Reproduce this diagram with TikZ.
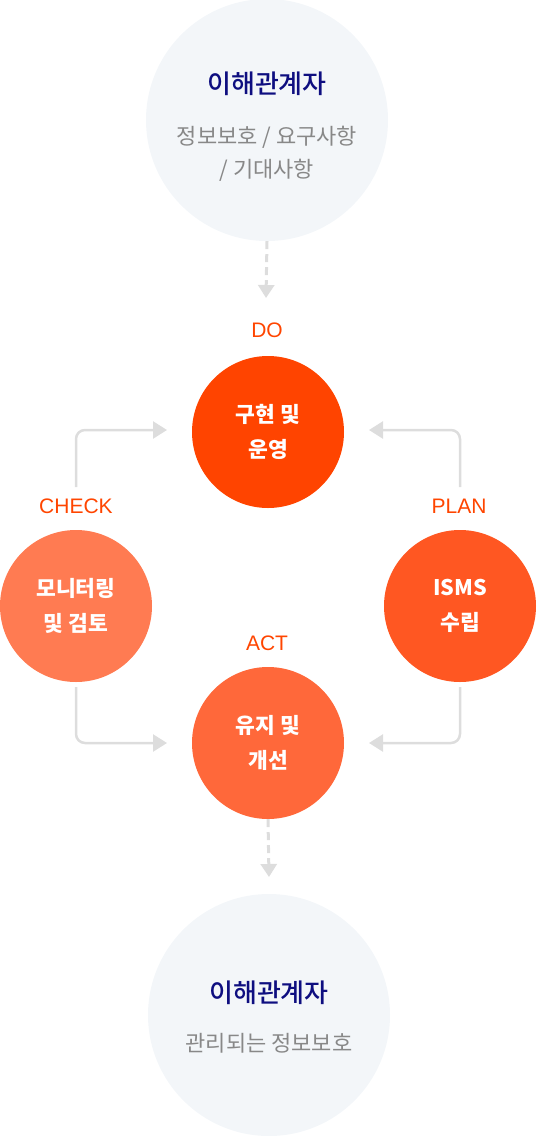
\documentclass[tikz,border=0pt]{standalone}
\usepackage{fontspec}
\setmainfont{Noto Sans CJK KR}
\newfontfamily\krmed{Noto Sans CJK KR}[UprightFont={* Medium}]
\newfontfamily\latinlbl{Liberation Sans}
\usetikzlibrary{arrows.meta}
\definecolor{cdo}{RGB}{255,68,0}
\definecolor{cplan}{RGB}{255,87,34}
\definecolor{cact}{RGB}{255,104,58}
\definecolor{ccheck}{RGB}{255,123,82}
\definecolor{cbg}{RGB}{243,246,249}
\definecolor{cnavy}{RGB}{14,14,128}
\definecolor{csub}{RGB}{136,136,136}
\definecolor{cline}{RGB}{221,221,221}
\definecolor{clbl}{RGB}{255,69,0}
\tikzset{
  x=1pt,y=-1pt,
  bigcirc/.style={circle,fill=cbg,minimum size=242pt,inner sep=0pt},
  stepcirc/.style={circle,minimum size=152pt,inner sep=0pt,text=white,align=center,
    font=\fontsize{21.5}{35}\selectfont\bfseries},
  titletext/.style={text=cnavy,font=\fontsize{26}{30}\selectfont\krmed,inner sep=0pt},
  subtext/.style={text=csub,font=\fontsize{22}{33}\selectfont,align=center,inner sep=0pt},
  phase/.style={text=clbl,font=\fontsize{21}{24}\selectfont\latinlbl,inner sep=0pt},
  conn/.style={draw=cline,line width=2.5pt,rounded corners=9pt,-{Triangle[length=14pt,width=17pt]}},
  dconn/.style={draw=cline,line width=3pt,dash pattern=on 8pt off 5pt,-{Triangle[length=13pt,width=16pt]}}
}
\begin{document}
\begin{tikzpicture}
\useasboundingbox (0,0) rectangle (536,1136);
% stakeholder circles
\node[bigcirc] (top) at (267,120) {};
\node[titletext] (toptitle) at (267,84) {이해관계자};
\node[subtext] (topsub) at (267,153.5) {정보보호 / 요구사항\\/ 기대사항};
\node[bigcirc] (bot) at (269,1015) {};
\node[titletext] (bottitle) at (269,993) {이해관계자};
\node[subtext] (botsub) at (269,1043) {관리되는 정보보호};
% phase labels
\node[phase] (lbldo) at (267,330) {DO};
\node[phase] (lblcheck) at (76,506) {CHECK};
\node[phase] (lblplan) at (459,506) {PLAN};
\node[phase] (lblact) at (267,643) {ACT};
% step circles
\node[stepcirc,fill=cdo] (do) at (268,432) {구현 및\\운영};
\node[stepcirc,fill=ccheck] (check) at (76,606) {모니터링\\및 검토};
\node[stepcirc,fill=cplan] (plan) at (460,606) {ISMS\\수립};
\node[stepcirc,fill=cact] (act) at (268,743) {유지 및\\개선};
% coordinates
\coordinate (t1) at (266,298);
\coordinate (t2) at (269,877);
\coordinate (cs1) at (76,487);
\coordinate (ps1) at (460,487);
\coordinate (cs2) at (76,687);
\coordinate (ps2) at (460,687);
\coordinate (dl) at (167,430);
\coordinate (dr) at (369,430);
\coordinate (al) at (167,743);
\coordinate (ar) at (369,743);
% connectors
\draw[dconn] (top.south) -- (t1);
\draw[dconn] (act.south) -- (t2);
\draw[conn] (cs1) |- (dl);
\draw[conn] (ps1) |- (dr);
\draw[conn] (cs2) |- (al);
\draw[conn] (ps2) |- (ar);
\end{tikzpicture}
\end{document}
